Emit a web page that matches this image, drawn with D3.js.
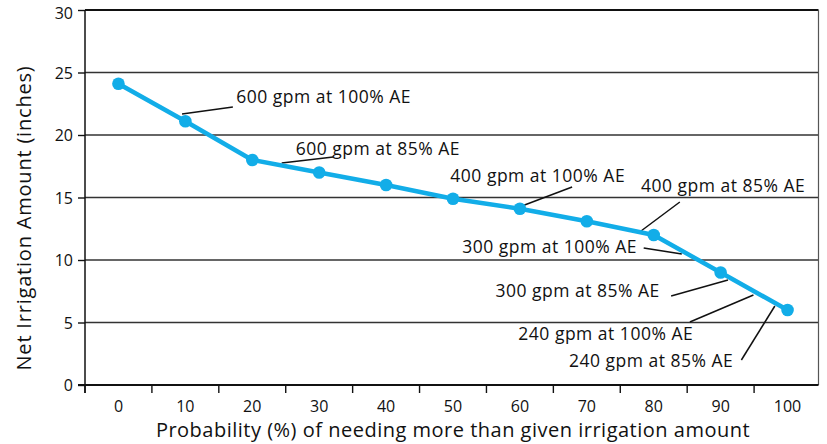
<!DOCTYPE html>
<html>
<head>
<meta charset="utf-8">
<script src="https://cdn.jsdelivr.net/npm/d3@7"></script>
<style>
  html, body { margin: 0; padding: 0; background: #fff; }
  svg { display: block; font-family: "Open Sans", Lato, sans-serif; }
</style>
</head>
<body>
<svg id="chart" width="827" height="444"></svg>
<script>
// ---- data ----
const probabilities = [0, 10, 20, 30, 40, 50, 60, 70, 80, 90, 100];
const netIrrigation = [24.1, 21.1, 18.0, 17.0, 16.0, 14.9, 14.1, 13.1, 12.0, 9.0, 6.0];
const yTicks = [0, 5, 10, 15, 20, 25, 30];
const xLabel = "Probability (%) of needing more than given irrigation amount";
const yLabel = "Net Irrigation Amount (inches)";
// annotation labels with text position and leader line (in data units)
const annoText = ["600 gpm at 100% AE", "600 gpm at 85% AE", "400 gpm at 100% AE", "400 gpm at 85% AE",
                  "300 gpm at 100% AE", "300 gpm at 85% AE", "240 gpm at 100% AE", "240 gpm at 85% AE"];
const annoAnchor = ["start", "start", "start", "start", "end", "end", "end", "end"];
const annoTextPos = [[17.6, 22.56], [26.5, 18.4], [49.6, 16.24], [78.1, 15.44],
                     [77.5, 10.56], [80.9, 7.04], [85.9, 3.6], [91.9, 1.44]];
const annoLine = [[9.5, 21.68, 17.1, 22.24], [24.4, 17.76, 32.1, 18.24], [60.3, 14.32, 67.8, 15.84],
                  [78.1, 12.32, 83.9, 14.64], [78.5, 10.96, 84.2, 10.48], [82.6, 7.12, 91.1, 8.4],
                  [85.4, 5.04, 94.9, 7.2], [93.1, 2.0, 98.1, 6.32]];

// ---- layout ----
const svg = d3.select("#chart");
const mLeft = 85, mRight = 821, frameRight = 818.5, mTop = 10, mBottom = 385;

const xBand = d3.scaleBand().domain(probabilities.map(String)).range([mLeft, mRight]).padding(0);
const bw = xBand.bandwidth();
const x = d3.scaleLinear().domain([0, 100]).range([xBand("0") + bw / 2, xBand("100") + bw / 2]);
const y = d3.scaleLinear().domain([0, 30]).range([mBottom, mTop]);

// gridlines
svg.append("g").selectAll("line").data(yTicks.filter(t => t > 0 && t < 30)).join("line")
  .attr("x1", mLeft).attr("x2", frameRight).attr("y1", d => y(d)).attr("y2", d => y(d))
  .attr("stroke", "#333").attr("stroke-width", 1.4);

// frame: top and right
svg.append("line").attr("x1", mLeft).attr("x2", frameRight).attr("y1", y(30)).attr("y2", y(30))
  .attr("stroke", "#111").attr("stroke-width", 2);
svg.append("line").attr("x1", frameRight).attr("x2", frameRight).attr("y1", y(30)).attr("y2", y(0))
  .attr("stroke", "#555").attr("stroke-width", 1.2);

// y axis
const yAxis = d3.axisLeft(y).tickValues(yTicks).tickSize(7).tickPadding(5);
const gy = svg.append("g").attr("transform", `translate(${mLeft},0)`).call(yAxis);
gy.select(".domain").remove();
gy.selectAll(".tick line").attr("stroke", "#111").attr("stroke-width", 1.4);
gy.selectAll(".tick text").attr("font-size", 16).attr("fill", "#111").attr("font-family", "'Open Sans', sans-serif")
  .attr("dy", d => d === 30 ? "0.55em" : "0.35em");
svg.append("line").attr("x1", mLeft).attr("x2", mLeft).attr("y1", y(30)).attr("y2", mBottom + 8)
  .attr("stroke", "#111").attr("stroke-width", 1.5);

// x axis: ticks at band boundaries, labels at band centres
const gx = svg.append("g");
gx.selectAll("line.tk").data(probabilities).join("line").attr("class", "tk")
  .attr("x1", d => xBand(String(d))).attr("x2", d => xBand(String(d)))
  .attr("y1", mBottom).attr("y2", mBottom + 8).attr("stroke", "#111").attr("stroke-width", 1.4);
gx.selectAll("text").data(probabilities).join("text")
  .attr("x", d => xBand(String(d)) + bw / 2).attr("y", 412)
  .attr("text-anchor", "middle").attr("font-size", 16).attr("fill", "#111").text(d => d);
svg.append("line").attr("x1", mLeft - 7).attr("x2", frameRight).attr("y1", mBottom).attr("y2", mBottom)
  .attr("stroke", "#111").attr("stroke-width", 2.2);

// axis titles
svg.append("text").attr("x", (157 + 749) / 2).attr("y", 437).attr("text-anchor", "middle")
  .attr("font-size", 20).attr("letter-spacing", 0.5).attr("fill", "#111").text(xLabel);
svg.append("text").attr("transform", `translate(31,${(73 + 363) / 2}) rotate(-90)`)
  .attr("text-anchor", "middle").attr("font-size", 20).attr("letter-spacing", 0.8)
  .attr("fill", "#111").text(yLabel);

// annotation leader lines
svg.append("g").selectAll("line").data(annoLine).join("line")
  .attr("x1", d => x(d[0])).attr("y1", d => y(d[1])).attr("x2", d => x(d[2])).attr("y2", d => y(d[3]))
  .attr("stroke", "#111").attr("stroke-width", 1.5);

// data line and points
const color = "#12ade8";
svg.append("path").datum(probabilities.map((p, i) => [p, netIrrigation[i]]))
  .attr("fill", "none").attr("stroke", color).attr("stroke-width", 4.5).attr("stroke-linejoin", "round")
  .attr("d", d3.line().x(d => x(d[0])).y(d => y(d[1])));
svg.append("g").selectAll("circle").data(probabilities).join("circle")
  .attr("cx", d => x(d)).attr("cy", (d, i) => y(netIrrigation[i])).attr("r", 6.3).attr("fill", color);

// annotation texts
svg.append("g").selectAll("text").data(annoText).join("text")
  .attr("x", (d, i) => x(annoTextPos[i][0])).attr("y", (d, i) => y(annoTextPos[i][1]))
  .attr("text-anchor", (d, i) => annoAnchor[i])
  .attr("font-size", 17.5).attr("letter-spacing", 0.5).attr("fill", "#111").text(d => d);
</script>
</body>
</html>
